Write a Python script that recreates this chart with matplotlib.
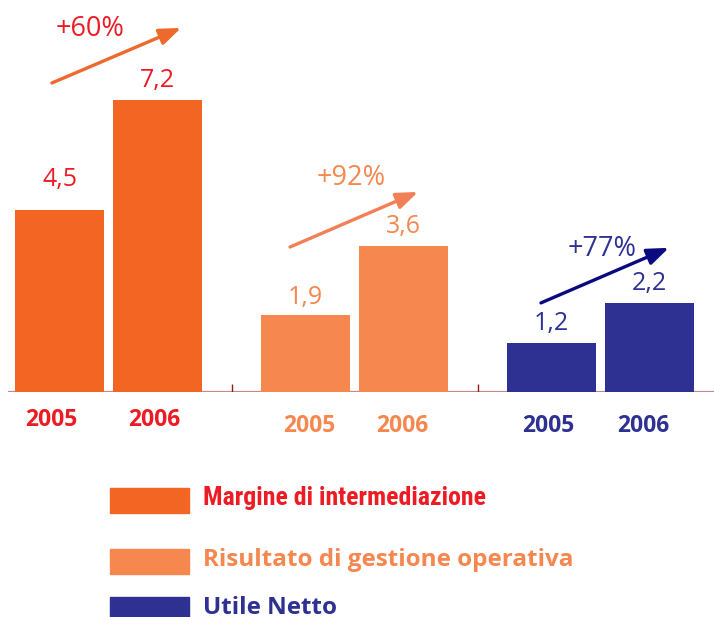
import matplotlib
matplotlib.use("Agg")
import matplotlib.pyplot as plt
from matplotlib.patches import Rectangle

# data
years = ["2005", "2006"]
series = ["Margine di intermediazione", "Risultato di gestione operativa", "Utile Netto"]
values = [[4.5, 7.2], [1.9, 3.6], [1.2, 2.2]]
value_labels = [["4,5", "7,2"], ["1,9", "3,6"], ["1,2", "2,2"]]
growth = ["+60%", "+92%", "+77%"]

# styles
bar_colors = ["#f26522", "#f5874f", "#2e3192"]
text_colors = ["#ed1c24", "#f5874f", "#2e3192"]
arrow_colors = ["#ee6a2c", "#f27f55", "#0a0a80"]

# layout (group units / value units)
bar_w = 0.362
bar_off = 0.199
label_lift = [[17, 9.5], [8, 9.5], [10, 9.5]]   # points above bar top (baseline)
year_drop = [24.5, 29, 29]                       # points below axis (baseline)
year_dx = [[-6, -2.5], [3, -1], [-2.5, -4.5]]
arrow_x = [(-0.230, 0.295), (-0.262, 0.258), (-0.242, 0.278)]
arrow_y0 = [7.63, 3.58, 2.20]
arrow_rise = 1.36
pct_pos = [(-0.075, 8.79), (-0.014, 5.11), (0.006, 3.36)]

fig = plt.figure(figsize=(7.14, 6.17), dpi=100)
ax = fig.add_axes([0, 225 / 617, 1, 392 / 617])
ax.set_xlim(-108.5 / 246, 605.5 / 246)
ax.set_ylim(0, 392 / 40.5)
ax.axis("off")

reg = dict(family=["Open Sans", "DejaVu Sans"])

ax.axhline(0, xmin=9 / 714, xmax=1, color="#c8898b", lw=1.6, zorder=1)
ax.vlines([0.5, 1.5], 0, 0.2, color="#8b1a1a", lw=1.0, zorder=1)

for g in range(3):
    for k in range(2):
        x = g + (k * 2 - 1) * bar_off
        v = values[g][k]
        ax.bar(x, v, width=bar_w, color=bar_colors[g], zorder=2)
        ax.annotate(value_labels[g][k], (x, v), xytext=(0, label_lift[g][k]),
                    textcoords="offset points", ha="center", va="baseline",
                    fontsize=18, color=text_colors[g], **reg)
        ax.annotate(years[k], (x, 0), xytext=(year_dx[g][k], -year_drop[g]),
                    textcoords="offset points", ha="center", va="baseline",
                    fontsize=16.5, fontweight="bold", color=text_colors[g], **reg)
    # growth arrow
    ax.annotate("", xy=(g + arrow_x[g][1], arrow_y0[g] + arrow_rise),
                xytext=(g + arrow_x[g][0], arrow_y0[g]),
                arrowprops=dict(arrowstyle="-|>,head_length=1.3,head_width=0.5",
                                color=arrow_colors[g], lw=2.4, shrinkA=0, shrinkB=0))
    ax.text(g + pct_pos[g][0], pct_pos[g][1], growth[g], ha="center", va="baseline",
            fontsize=19.5, color=text_colors[g], **reg)

# legend
leg_y = [488, 549, 597]
for i, name in enumerate(series):
    y = leg_y[i]
    fig.patches.append(Rectangle((110 / 714, 1 - (y + 25) / 617), 79 / 714, 25 / 617,
                                 transform=fig.transFigure, color=bar_colors[i]))
    if i == 0:
        fam = ["Roboto Condensed", "Liberation Sans Narrow", "Roboto"]
        fs = 18.5
    else:
        fam = ["Open Sans", "DejaVu Sans"]
        fs = 17.5
    fig.text(203 / 714, 1 - (y + 17) / 617, name, ha="left", va="baseline",
             fontsize=fs, fontweight="bold", color=text_colors[i], family=fam)

fig.savefig("out.png", dpi=100)
